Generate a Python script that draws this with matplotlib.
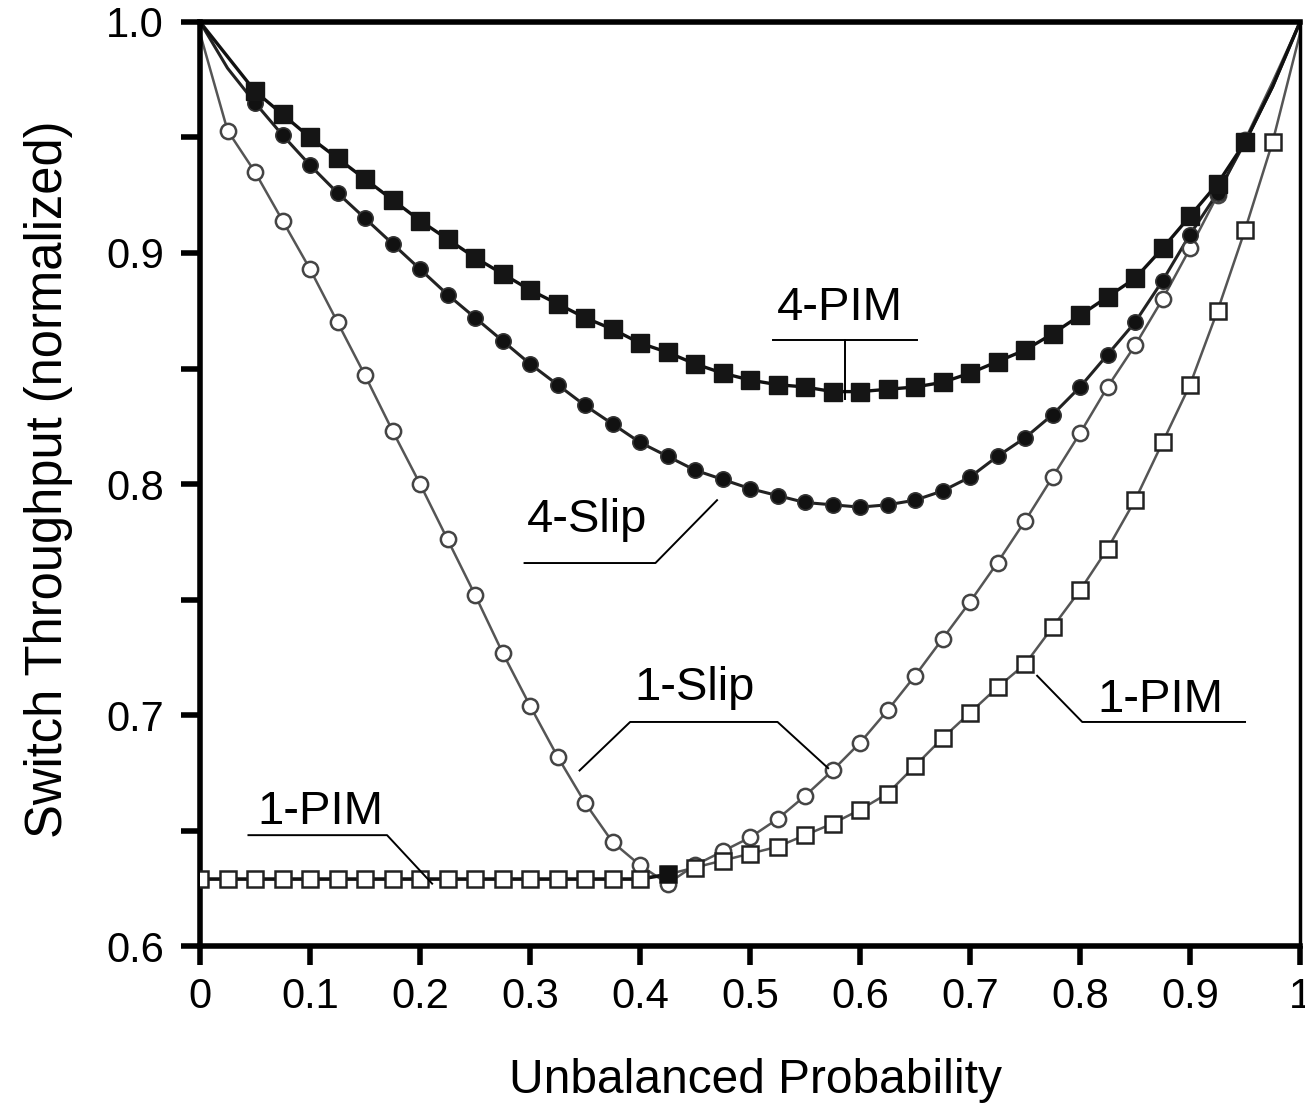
import matplotlib
matplotlib.use("Agg")
import matplotlib.pyplot as plt
from matplotlib.ticker import MultipleLocator

plt.rcParams['font.family'] = ['Liberation Sans', 'DejaVu Sans']

# ===== Data =====
x = [0.0, 0.025, 0.05, 0.075, 0.1, 0.125, 0.15, 0.175, 0.2, 0.225,
     0.25, 0.275, 0.3, 0.325, 0.35, 0.375, 0.4, 0.425, 0.45, 0.475,
     0.5, 0.525, 0.55, 0.575, 0.6, 0.625, 0.65, 0.675, 0.7, 0.725,
     0.75, 0.775, 0.8, 0.825, 0.85, 0.875, 0.9, 0.925, 0.95, 0.975, 1.0]

pim4 = [1.000, 0.985, 0.970, 0.960, 0.950, 0.941, 0.932, 0.923, 0.914, 0.906,
        0.898, 0.891, 0.884, 0.878, 0.872, 0.867, 0.861, 0.857, 0.852, 0.848,
        0.845, 0.843, 0.842, 0.840, 0.840, 0.841, 0.842, 0.844, 0.848, 0.853,
        0.858, 0.865, 0.873, 0.881, 0.889, 0.902, 0.916, 0.930, 0.948, 0.972, 1.000]

slip4 = [1.000, 0.980, 0.965, 0.951, 0.938, 0.926, 0.915, 0.904, 0.893, 0.882,
         0.872, 0.862, 0.852, 0.843, 0.834, 0.826, 0.818, 0.812, 0.806, 0.802,
         0.798, 0.795, 0.792, 0.791, 0.790, 0.791, 0.793, 0.797, 0.803, 0.812,
         0.820, 0.830, 0.842, 0.856, 0.870, 0.888, 0.908, 0.926, 0.948, 0.972, 1.000]

slip1 = [0.995, 0.953, 0.935, 0.914, 0.893, 0.870, 0.847, 0.823, 0.800, 0.776,
         0.752, 0.727, 0.704, 0.682, 0.662, 0.645, 0.635, 0.627, 0.635, 0.641,
         0.647, 0.655, 0.665, 0.676, 0.688, 0.702, 0.717, 0.733, 0.749, 0.766,
         0.784, 0.803, 0.822, 0.842, 0.860, 0.880, 0.902, 0.925, 0.949, 0.974, 1.000]

pim1 = [0.629, 0.629, 0.629, 0.629, 0.629, 0.629, 0.629, 0.629, 0.629, 0.629,
        0.629, 0.629, 0.629, 0.629, 0.629, 0.629, 0.629, 0.631, 0.634, 0.637,
        0.640, 0.643, 0.648, 0.653, 0.659, 0.666, 0.678, 0.690, 0.701, 0.712,
        0.722, 0.738, 0.754, 0.772, 0.793, 0.818, 0.843, 0.875, 0.910, 0.948, 0.995]

xticks = [0, 0.1, 0.2, 0.3, 0.4, 0.5, 0.6, 0.7, 0.8, 0.9, 1]
xticklabels = ['0', '0.1', '0.2', '0.3', '0.4', '0.5', '0.6', '0.7', '0.8', '0.9', '1']
yticks = [0.6, 0.7, 0.8, 0.9, 1.0]
yticklabels = ['0.6', '0.7', '0.8', '0.9', '1.0']

# ===== Figure =====
fig = plt.figure(figsize=(13.05, 11.10), dpi=100)
ax = fig.add_axes([0.1533, 0.1477, 0.8429, 0.8325])

# 1-Slip: open circles, grey line
ax.plot(x, slip1, '-', color='#555555', lw=1.8, zorder=2)
ax.plot(x[1:39], slip1[1:39], 'o', ms=11, mfc='white', mec='#444444', mew=1.8, zorder=3)

# 1-PIM: open squares
ax.plot(x[:18], pim1[:18], '-', color='#111111', lw=2.6, zorder=2)
ax.plot(x[17:], pim1[17:], '-', color='#555555', lw=1.8, zorder=2)
ax.plot(x[:40], pim1[:40], 's', ms=12, mfc='white', mec='#222222', mew=1.8, zorder=4)
ax.plot(x[17], pim1[17], 's', ms=12, mfc='#111111', mec='#111111', zorder=5)

# 4-Slip: filled circles
ax.plot(x, slip4, '-', color='#222222', lw=2.2, zorder=2)
ax.plot(x[2:39], slip4[2:39], 'o', ms=11, mfc='#111111', mec='#333333', mew=1.2, zorder=3)

# 4-PIM: filled squares
ax.plot(x, pim4, '-', color='#111111', lw=2.4, zorder=2)
ax.plot(x[2:39], pim4[2:39], 's', ms=13, mfc='#151515', mec='#151515', zorder=3)

# ===== Axes styling =====
ax.set_xlim(0, 1)
ax.set_ylim(0.6, 1.0)
ax.set_xticks(xticks)
ax.set_xticklabels(xticklabels)
ax.set_yticks(yticks)
ax.set_yticklabels(yticklabels)
ax.yaxis.set_minor_locator(MultipleLocator(0.05))

for side in ['left', 'bottom', 'top']:
    ax.spines[side].set_linewidth(4)
ax.spines['right'].set_linewidth(2.5)

ax.tick_params(axis='both', which='both', direction='out', length=14, width=4,
               labelsize=30, top=False, right=False)
ax.tick_params(axis='x', pad=8)
ax.tick_params(axis='y', pad=12)
ax.tick_params(axis='y', which='minor', left=True)

ax.set_xlabel('Unbalanced Probability', fontsize=34.5, va='center')
ax.xaxis.set_label_coords(0.505, -0.145)
ax.set_ylabel('Switch Throughput (normalized)', fontsize=36.5, va='center')
ax.yaxis.set_label_coords(-0.138, 0.505)

# ===== Callout labels =====
def callout(text, tx, ty, path):
    ax.text(tx, ty, text, fontsize=34, ha='center', va='center', zorder=6)
    xs = [p[0] for p in path]
    ys = [p[1] for p in path]
    ax.plot(xs, ys, '-', color='black', lw=1.4, zorder=6)

callout('4-PIM', 0.582, 0.876, [(0.521, 0.8623), (0.652, 0.8623)])
ax.plot([0.586, 0.586], [0.8623, 0.837], '-', color='black', lw=1.4, zorder=6)
callout('4-Slip', 0.352, 0.7844, [(0.295, 0.7658), (0.414, 0.7658), (0.470, 0.793)])
callout('1-Slip', 0.45, 0.7117, [(0.345, 0.676), (0.391, 0.697), (0.525, 0.697), (0.571, 0.677)])
callout('1-PIM', 0.109, 0.658, [(0.044, 0.648), (0.170, 0.648), (0.211, 0.627)])
callout('1-PIM', 0.873, 0.7065, [(0.761, 0.717), (0.802, 0.697), (0.95, 0.697)])

fig.savefig('out.png', dpi=100)
